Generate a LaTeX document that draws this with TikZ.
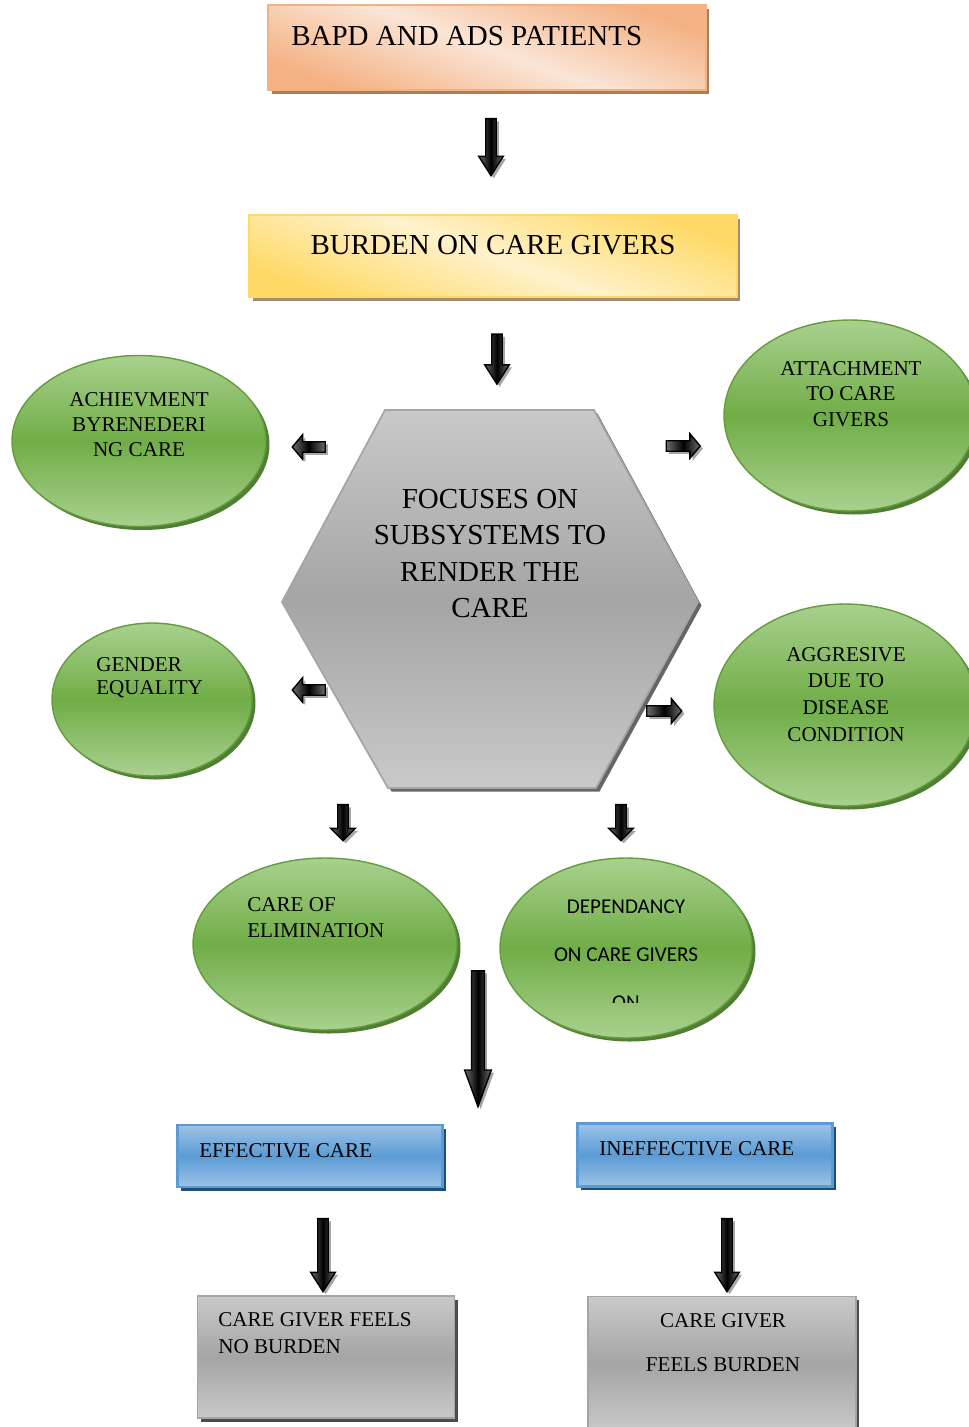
\documentclass[tikz,border=0pt]{standalone}
\usepackage{fontspec}
\setmainfont{Liberation Serif}
\newfontfamily\calfont{Carlito}
\usetikzlibrary{shapes.geometric,shapes.arrows,shadows}

\definecolor{peach}{HTML}{F4B183}
\definecolor{peachlt}{HTML}{FBE5D6}
\definecolor{gold}{HTML}{FFD966}
\definecolor{goldlt}{HTML}{FFF2CC}
\definecolor{grn}{HTML}{70AD47}
\definecolor{grnlt}{HTML}{A9D18E}
\definecolor{grndk}{HTML}{507E32}
\definecolor{blu}{HTML}{5B9BD5}
\definecolor{blult}{HTML}{9DC3E6}
\definecolor{bludk}{HTML}{1F4E79}
\definecolor{gry}{HTML}{A5A5A5}
\definecolor{grylt}{HTML}{C9C9C9}

\tikzset{
  shad/.style={drop shadow={shadow xshift=2pt, shadow yshift=-2pt, fill=#1, opacity=1}},
  patbox/.style={rectangle, draw=peach, line width=1.2pt, top color=peach, bottom color=peach,
    middle color=peachlt, shading angle=-20, shad=brown!60!gray},
  burbox/.style={rectangle, draw=gold, line width=1.2pt, top color=gold, bottom color=gold,
    middle color=goldlt, shading angle=-20, shad=brown!40!gray!90},
  hexshape/.style={draw=gry, line width=1pt, top color=grylt, bottom color=grylt, middle color=gry,
    shad=gray!80!black},
  oval/.style={ellipse, draw=grn!90!black, line width=0.8pt, top color=grnlt, bottom color=grnlt,
    middle color=grn, shad=grndk},
  blubox/.style={rectangle, draw=blu, line width=1.2pt, top color=blult, bottom color=blult,
    middle color=blu, shad=bludk},
  grybox/.style={rectangle, draw=gry, line width=1pt, top color=grylt, bottom color=grylt,
    middle color=gry, shad=gray!60!black},
  blk/.style={single arrow, draw=black, line width=0.8pt, inner xsep=0pt, inner ysep=2.6pt,
    text height=0pt, text depth=0pt, single arrow head extend=4pt,
    left color=gray!85!black, right color=gray!85!black, middle color=black,
    drop shadow={shadow xshift=1.5pt, shadow yshift=-1.5pt, fill=gray!70, opacity=1}},
  txt/.style={inner sep=0pt, text=black},
  big/.style={txt, font=\fontsize{16.5}{20.6}\selectfont},
  sml/.style={txt, font=\fontsize{12}{14.5}\selectfont}
}

\begin{document}
\begin{tikzpicture}[x=0.02cm, y=-0.02cm]

  \useasboundingbox (0,0) rectangle (969,1427);

  % --- top boxes ---
  \node[patbox, minimum width=8.76cm, minimum height=1.7cm] (patients) at (487,47.5) {};
  \node[big, anchor=west] (patients-t) at (291,36.5) {BAPD AND ADS PATIENTS};

  \node[burbox, minimum width=9.76cm, minimum height=1.64cm] (burden) at (493,256) {};
  \node[big] (burden-t) at (493,245) {BURDEN ON CARE GIVERS};

  % --- centre hexagon ---
  \path[hexshape] (385,410) -- (594,410) -- (698,602) -- (596,788) -- (388,788) -- (282,602) -- cycle;
  \coordinate (hex) at (490,599);
  \node[big, align=center] (hex-t) at (490,553.5) {FOCUSES ON\\SUBSYSTEMS TO\\RENDER THE\\CARE};

  % --- subsystems ---
  \node[oval, minimum width=5.08cm, minimum height=3.42cm] (achieve) at (139,441) {};
  \node[sml, align=center, font=\fontsize{12}{14.2}\selectfont] (achieve-t) at (139,425)
    {ACHIEVMENT\\BYRENEDERI\\NG CARE};

  \node[oval, minimum width=5.04cm, minimum height=3.82cm] (attach) at (850,415.5) {};
  \node[sml, align=center, font=\fontsize{12}{14.7}\selectfont] (attach-t) at (851,394)
    {ATTACHMENT\\TO CARE\\GIVERS};

  \node[oval, minimum width=4cm, minimum height=3.06cm] (gender) at (152,699.5) {};
  \node[sml, align=left, anchor=west, font=\fontsize{12}{13}\selectfont] (gender-t) at (96,677.5)
    {GENDER\\EQUALITY};

  \node[oval, minimum width=5.24cm, minimum height=4.04cm] (aggres) at (845,705) {};
  \node[sml, align=center, font=\fontsize{12}{15.3}\selectfont] (aggres-t) at (846,694.5)
    {AGGRESIVE\\DUE TO\\DISEASE\\CONDITION};

  \node[oval, minimum width=5.28cm, minimum height=3.44cm] (elim) at (325,944) {};
  \node[sml, align=left, anchor=west, font=\fontsize{12}{14.7}\selectfont] (elim-t) at (247,918)
    {CARE OF\\ELIMINATION};

  \node[oval, minimum width=5.04cm, minimum height=3.6cm] (depend) at (626,948) {};
  \begin{scope}
    \clip (500,850) rectangle (760,1002);
    \node[txt, align=center, font=\calfont\fontsize{12}{27.2}\selectfont] (depend-t) at (626,955)
      {DEPENDANCY\\ON CARE GIVERS\\ON};
  \end{scope}

  % --- outcome boxes ---
  \node[blubox, minimum width=5.3cm, minimum height=1.24cm] (eff) at (310,1156) {};
  \node[sml, anchor=west] (eff-t) at (199,1151) {EFFECTIVE CARE};

  \node[blubox, minimum width=5.1cm, minimum height=1.26cm] (ineff) at (705,1155) {};
  \node[sml, anchor=west] (ineff-t) at (599,1149) {INEFFECTIVE CARE};

  \node[grybox, minimum width=5.14cm, minimum height=2.44cm] (noburden) at (326,1357) {};
  \node[sml, align=left, anchor=west, font=\fontsize{12}{15.3}\selectfont] (noburden-t) at (218,1333.5)
    {CARE GIVER FEELS\\NO BURDEN};

  \node[grybox, minimum width=5.36cm, minimum height=2.7cm] (feels) at (722,1364) {};
  \node[sml, align=center, font=\fontsize{12}{25}\selectfont] (feels-t) at (723,1343)
    {CARE GIVER\\FEELS BURDEN};

  % --- block arrows ---
  \node[blk, rotate=-90, minimum height=1.14cm, single arrow tip angle=65] (ar1) at (491,143) {};
  \node[blk, rotate=-90, minimum height=1.0cm, single arrow tip angle=65] (ar2) at (497,355) {};
  \node[blk, rotate=180, minimum height=0.66cm, single arrow tip angle=100] (ar3) at (311,447) {};
  \node[blk, minimum height=0.68cm, single arrow tip angle=100] (ar4) at (681,446) {};
  \node[blk, rotate=180, minimum height=0.66cm, single arrow tip angle=100] (ar5) at (311,690) {};
  \node[blk, minimum height=0.7cm, single arrow tip angle=100] (ar6) at (662,711) {};
  \node[blk, rotate=-90, minimum height=0.72cm] (ar7) at (343,820) {};
  \node[blk, rotate=-90, minimum height=0.72cm] (ar8) at (621,820) {};
  \node[blk, rotate=-90, minimum height=2.72cm, inner ysep=3.2pt, single arrow tip angle=40] (ar9) at (478,1030) {};
  \node[blk, rotate=-90, minimum height=1.46cm, single arrow tip angle=65] (ar10) at (323,1251) {};
  \node[blk, rotate=-90, minimum height=1.46cm, single arrow tip angle=65] (ar11) at (727,1251) {};

\end{tikzpicture}
\end{document}
